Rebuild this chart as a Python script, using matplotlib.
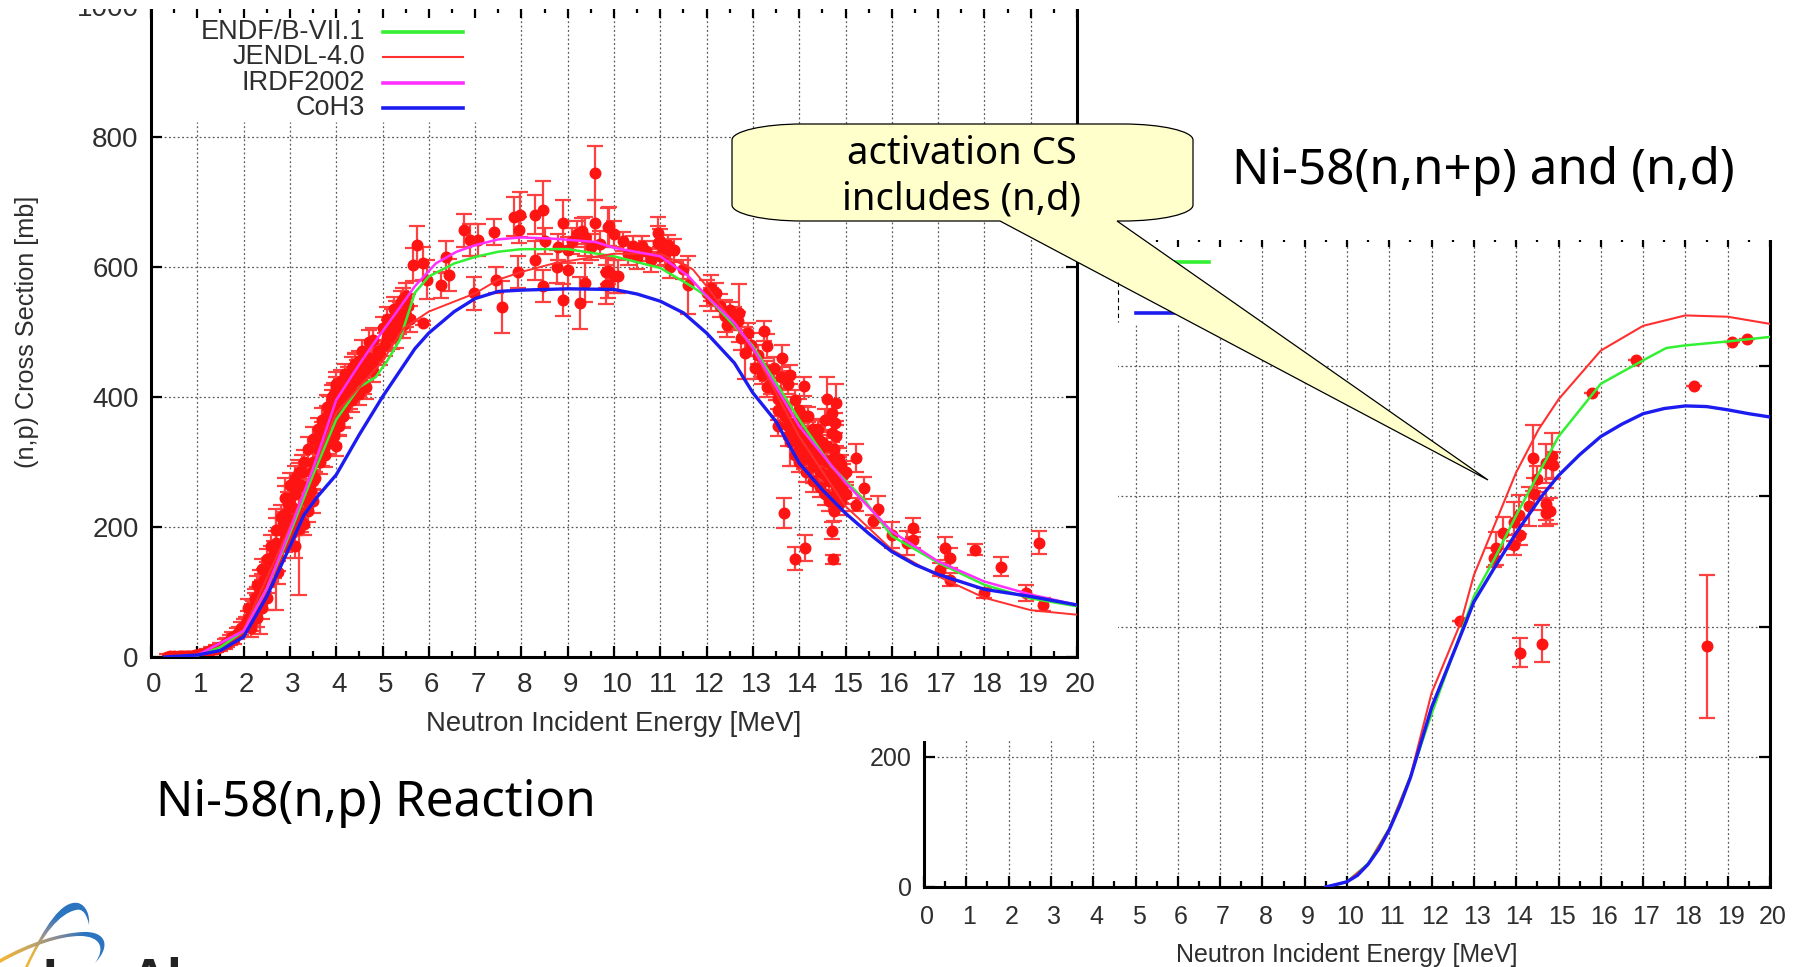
import numpy as np
import matplotlib
matplotlib.use('Agg')
import matplotlib.pyplot as plt
from matplotlib.path import Path
from matplotlib.patches import PathPatch, Rectangle
from matplotlib.colors import LinearSegmentedColormap
from matplotlib.transforms import ScaledTranslation

W, H = 1802, 967
plot_font = 'Liberation Sans'
note_font = 'Noto Sans'
text_gray = '#2e2e2e'
grid_gray = '#5a5a5a'
c_endf, c_jendl, c_irdf, c_coh = '#33f033', '#ff3030', '#ff30ff', '#1c1cf0'

# ---- left panel, Ni-58(n,p) curves
coh_x = [0.3, 1, 1.5, 2, 2.5, 3, 3.3, 3.6, 4, 4.5, 5, 5.7, 6, 6.55, 7, 7.5, 8, 9, 10, 10.5, 11, 11.5, 12, 12.6, 13, 13.5, 14, 14.5, 15, 15.5, 16, 16.5, 17, 18, 19, 20]
coh_y = [0, 3, 10, 31, 93, 170, 218, 247, 280, 342, 400, 474, 498, 531, 551, 562, 564, 566, 565, 558, 547, 529, 498, 452, 406, 362, 298, 257, 221, 190, 162, 142, 127, 104, 93, 80]
endf_x = [0.3, 1, 1.5, 2, 2.5, 3, 3.5, 4, 4.5, 4.85, 5.1, 5.37, 5.7, 6, 6.55, 7, 7.5, 8, 9, 10, 11, 11.6, 12, 12.6, 13, 14, 14.7, 15.4, 16, 17, 18, 19, 20]
endf_y = [0, 2, 15, 40, 105, 190, 280, 365, 415, 430, 455, 487, 560, 585, 605, 615, 623, 627, 627, 616, 598, 573, 555, 509, 478, 365, 293, 242, 186, 145, 111, 90, 78]
irdf_x = [0.3, 1, 2, 2.5, 3, 3.5, 4, 4.5, 4.77, 5.3, 5.7, 6.15, 6.6, 7, 7.5, 8, 8.7, 9.6, 10, 11, 11.6, 12, 12.6, 13, 14, 15, 16, 17, 18, 19, 20]
irdf_y = [0, 3, 40, 105, 195, 290, 395, 450, 478, 530, 570, 605, 623, 633, 642, 645, 643, 638, 629, 616, 586, 555, 514, 475, 355, 268, 193, 147, 116, 96, 80]
jendl_x = [0.3, 1, 2, 3, 4, 4.5, 5, 5.45, 6, 7, 7.5, 8, 8.7, 10, 11, 11.7, 12, 13, 14, 15, 16, 17, 18, 19, 20]
jendl_y = [0, 2, 42, 200, 375, 415, 455, 505, 531, 559, 580, 592, 605, 620, 620, 596, 570, 473, 339, 232, 165, 124, 91, 72, 65]

# ---- left panel, experimental points (energy, cross section, uncertainty)
exp_x = [0.35, 0.4, 0.45, 0.5, 0.55, 0.6, 0.65, 0.7, 0.75, 0.8, 0.85, 0.9, 0.95, 1.0, 1.05, 1.1, 1.2, 1.3, 1.4, 1.5,
         1.6, 1.65, 1.7, 1.75, 1.8, 1.85, 1.9, 1.95, 2.0, 2.05, 2.1, 2.15, 2.2, 2.2, 2.25, 2.3, 2.3, 2.35, 2.35, 2.4, 2.4, 2.45, 2.5, 2.5, 2.55, 2.6,
         2.65, 2.7, 2.7, 2.75, 2.8, 2.85, 2.9, 2.9, 2.95, 3.0, 3.0, 3.05, 3.1, 3.1, 3.15, 3.2, 3.2, 3.25, 3.26, 3.3, 3.35, 3.4, 3.45, 3.5, 3.5, 3.5,
         3.55, 3.6, 3.65, 3.7, 3.7, 3.75, 3.8, 3.8, 3.85, 3.85, 3.9, 3.9, 3.95, 3.95, 4.0, 4.0, 4.0, 4.05, 4.05, 4.1, 4.1, 4.15, 4.2, 4.2, 4.25, 4.3, 4.3, 4.35, 4.4, 4.4, 4.45, 4.5, 4.5, 4.6, 4.6, 4.7, 4.8, 4.8, 4.9, 4.95,
         5.0, 5.05, 5.1, 5.15, 5.2, 5.25, 5.3, 5.3, 5.35, 5.37, 5.4, 5.45, 5.5, 5.55, 5.66, 5.75, 5.88, 5.88, 5.96, 6.26, 6.37, 6.43, 6.77, 6.9, 6.98, 7.07, 7.4, 7.45, 7.58, 7.83,
         7.92, 7.95, 7.98, 8.3, 8.3, 8.47, 8.47, 8.5, 8.77, 8.8, 8.9, 8.9, 9.0, 9.0, 9.1, 9.2, 9.26, 9.3, 9.37, 9.37, 9.5, 9.58, 9.58, 9.7, 9.83, 9.83, 9.87, 9.87, 9.88, 9.9, 10.0, 10.0,
         10.08, 10.2, 10.4, 10.6, 10.7, 10.96, 10.96, 11.0, 11.08, 11.17, 11.5, 11.6, 12.0, 12.1, 12.2, 12.4, 12.5, 12.67, 12.7, 12.83, 12.9,
         13.1, 13.2, 13.2, 13.25, 13.3, 13.3, 13.4, 13.5, 13.54, 13.55, 13.55, 13.6, 13.63, 13.65, 13.7, 13.7, 13.75, 13.8, 13.8, 13.8, 13.85, 13.9, 13.9, 13.95, 14.0, 14.0, 14.04, 14.05, 14.1, 14.1, 14.1, 14.15, 14.2, 14.2, 14.25, 14.3, 14.3, 14.35, 14.4, 14.4, 14.45, 14.46, 14.5, 14.55, 14.6, 14.6, 14.62, 14.65, 14.7, 14.7, 14.7, 14.75, 14.77, 14.8, 14.8, 14.8, 14.85, 14.87, 14.9, 14.9, 14.95, 15.0,
         15.23, 15.23, 15.4, 15.6, 15.7, 16.0, 16.33, 16.45, 16.45, 17.04, 17.15, 17.25, 17.25, 17.8, 18.0, 18.35, 18.9, 19.17, 19.26,
         13.67, 13.9, 14.12, 14.7, 14.72]
exp_y = [0, 1, 0, 1, 0, 1, 1, 1, 1, 2, 2, 2, 3, 3, 4, 5, 8, 10, 13, 15,
         20, 22, 26, 30, 28, 36, 38, 44, 48, 52, 58, 52, 72, 62, 84, 60, 92, 100, 85, 75, 110, 118, 90, 128, 132, 150,
         160, 175, 150, 130, 195, 205, 180, 220, 235, 210, 245, 230, 170, 250, 215, 197, 225, 265, 285, 205, 260, 225, 285, 300, 270, 240,
         300, 320, 335, 310, 345, 325, 340, 370, 350, 385, 360, 395, 340, 405, 375, 325, 415, 385, 355, 395, 425, 370, 400, 435, 430, 430, 410, 445, 420, 450, 440, 430, 455, 445, 420, 460, 450, 487, 470, 465,
         505, 480, 520, 500, 492, 535, 530, 508, 515, 528, 545, 550, 525, 540, 603, 633, 605, 513, 580, 572, 615, 587, 656, 641, 559, 641, 654, 580, 538, 677,
         592, 656, 680, 680, 610, 687, 570, 640, 600, 630, 667, 549, 595, 625, 640, 650, 544, 655, 575, 646, 630, 744, 667, 635, 592, 572, 593, 572, 661, 662, 585, 650,
         585, 639, 632, 632, 624, 637, 652, 616, 626, 634, 596, 572, 560, 568, 560, 524, 534, 516, 529, 468, 498,
         465, 445, 434, 501, 440, 478, 420, 410, 355, 396, 380, 395, 460, 375, 385, 370, 355, 434, 360, 330, 340, 360, 345, 335, 345, 320, 330, 345, 416, 330, 304, 310, 325, 370, 305, 320, 293, 300, 310, 350, 285, 319, 305, 280, 396, 300, 278, 270, 285, 345, 304, 270, 360, 391, 250, 263, 265, 293, 240, 252, 265, 250,
         306, 234, 260, 209, 228, 188, 175, 199, 180, 134, 167, 152, 119, 165, 98, 139, 98, 176, 80,
         221, 151, 168, 194, 150]
exp_err = [4, 4, 4, 4, 4, 4, 4, 4, 4, 4, 4, 4, 4, 4, 4, 4, 5, 5, 5, 6,
           7, 7, 8, 8, 8, 8, 8, 10, 10, 10, 12, 12, 14, 14, 14, 14, 16, 16, 49, 16, 18, 18, 18, 18, 20, 20,
           18, 18, 77, 18, 18, 18, 18, 55, 18, 18, 18, 18, 18, 18, 18, 102, 18, 18, 25, 18, 18, 18, 18, 16, 18, 18,
           16, 16, 16, 16, 16, 16, 16, 16, 16, 16, 16, 16, 16, 16, 16, 16, 16, 16, 16, 16, 16, 16, 16, 16, 16, 16, 16, 16, 16, 16, 16, 16, 16, 16, 16, 16, 16, 18, 16, 16,
           18, 18, 18, 18, 18, 18, 18, 18, 18, 18, 18, 18, 18, 18, 25, 30, 25, 3, 30, 20, 25, 25, 25, 25, 25, 25, 20, 20, 40, 30,
           25, 20, 35, 30, 30, 45, 25, 20, 25, 20, 35, 25, 30, 20, 20, 20, 40, 20, 30, 30, 20, 42, 35, 20, 25, 30, 20, 20, 30, 30, 25, 20,
           25, 15, 15, 15, 15, 25, 25, 15, 15, 15, 15, 44, 20, 20, 15, 25, 12, 14, 45, 40, 15,
           15, 15, 15, 15, 15, 18, 15, 15, 15, 15, 15, 15, 20, 15, 15, 15, 15, 15, 15, 36, 15, 15, 15, 15, 15, 15, 15, 15, 15, 15, 15, 15, 15, 15, 15, 15, 25, 15, 15, 15, 15, 15, 15, 15, 35, 15, 15, 15, 15, 15, 15, 15, 15, 28, 15, 15, 15, 15, 15, 15, 15, 15,
           22, 10, 17, 10, 20, 20, 18, 15, 12, 10, 18, 15, 10, 8, 8, 14, 12, 18, 10,
           23, 18, 20, 13, 7]

# more of the dense bands, rising and falling edges
dense_x = [2.1, 2.15, 2.25, 2.3, 2.4, 2.45, 2.5, 2.55, 2.6, 2.65, 2.7, 2.75, 2.8, 2.85, 2.9, 2.95, 3.0, 3.05, 3.1, 3.15, 3.2, 3.25, 3.3, 3.35, 3.4, 3.45, 3.5, 3.55, 3.6, 3.65, 3.7, 3.75, 3.8, 3.85, 3.9, 3.95, 4.0, 4.05, 4.1, 4.15, 4.2, 4.25, 4.3, 4.35, 4.4, 4.45, 4.5, 4.55, 4.6, 4.65, 4.7, 4.75, 4.8,
           5.1, 5.2, 5.3, 5.4, 5.45, 5.5, 5.6, 10.3, 10.5, 10.8, 11.0, 11.1, 11.2, 11.3, 12.1, 12.3, 12.45, 12.6, 12.75, 12.95, 13.05,
           13.3, 13.45, 13.6, 13.75, 13.9, 14.0, 14.1, 14.2, 14.3, 14.4, 14.5, 14.55, 14.6, 14.7, 14.75, 14.8, 14.85, 14.9, 14.95, 15.0, 13.75, 13.9, 14.0, 14.15, 14.3, 14.45, 14.55, 14.65, 14.75, 14.85]
dense_y = [75, 45, 90, 110, 135, 105, 150, 115, 170, 140, 195, 150, 215, 170, 245, 200, 265, 190, 275, 205, 285, 210, 300, 240, 320, 255, 335, 275, 350, 300, 365, 310, 385, 330, 400, 345, 420, 360, 410, 370, 385, 415, 400, 395, 450, 425, 405, 470, 435, 415, 485, 455, 440,
           490, 515, 495, 525, 510, 555, 520, 620, 615, 610, 640, 620, 600, 625, 550, 540, 510, 520, 490, 480, 445,
           415, 445, 430, 420, 395, 380, 370, 345, 350, 335, 330, 365, 325, 375, 320, 340, 305, 295, 280, 285, 340, 310, 300, 285, 270, 262, 250, 240, 225, 235]
dense_err = [14, 14, 15, 15, 16, 16, 16, 16, 18, 18, 18, 18, 18, 18, 18, 18, 18, 18, 18, 18, 18, 18, 18, 18, 18, 18, 18, 18, 18, 18, 18, 18, 18, 18, 18, 18, 18, 18, 18, 18, 18, 18, 18, 18, 18, 18, 18, 18, 18, 18, 18, 18, 18,
             20, 20, 20, 20, 20, 20, 20, 18, 18, 18, 18, 18, 18, 18, 18, 18, 18, 18, 18, 18, 18,
             16, 16, 16, 16, 16, 16, 16, 16, 16, 16, 16, 16, 16, 16, 16, 16, 16, 16, 16, 16, 16, 16, 16, 16, 16, 16, 16, 16, 16, 16]

# ---- right panel, Ni-58(n,n+p) + (n,d) curves
coh2_x = [9.5, 10, 10.25, 10.5, 10.75, 11, 11.25, 11.5, 12, 12.77, 13, 13.5, 14, 14.6, 15, 15.5, 16, 16.5, 17, 17.5, 18, 18.5, 19, 19.5, 20]
coh2_y = [0, 8, 18, 35, 58, 88, 125, 168, 276, 400, 438, 492, 544, 600, 632, 664, 692, 711, 727, 735, 739, 738, 733, 727, 722]
jendl2_x = [9.5, 10, 10.5, 11, 11.5, 12, 12.7, 13, 14, 14.53, 15, 16, 17, 18, 19, 20]
jendl2_y = [0, 8, 35, 90, 170, 298, 408, 479, 637, 703, 749, 824, 862, 878, 876, 865]
endf2_x = [9.5, 10, 10.5, 11, 11.5, 12, 13, 13.5, 14, 15, 16, 17, 17.55, 18, 19, 20]
endf2_y = [0, 8, 36, 90, 170, 266, 446, 506, 571, 692, 773, 809, 828, 832, 838, 845]
exp2_x = [12.68, 15.8, 16.83, 18.2, 19.1, 19.45, 14.08, 14.6, 18.5, 13.48, 13.53, 13.68, 13.95, 14.08, 14.07, 13.95, 14.3, 14.42, 14.5, 14.4, 14.7, 14.85, 14.8, 14.7, 14.7, 14.87]
exp2_y = [408, 759, 809, 769, 837, 842, 360, 374, 370, 506, 520, 544, 525, 541, 572, 561, 585, 604, 626, 659, 651, 662, 577, 588, 574, 648]
exp2_err = [0, 0, 0, 0, 0, 0, 22, 28, 110, 15, 25, 25, 15, 15, 30, 30, 30, 25, 20, 50, 30, 35, 20, 25, 20, 20]

# ---- legend and axes
legend_names = ['ENDF/B-VII.1', 'JENDL-4.0', 'IRDF2002', 'CoH3']
legend_colors = [c_endf, c_jendl, c_irdf, c_coh]
legend_widths = [2.6, 1.5, 2.6, 2.6]
legend_y = [961, 922, 883, 844]
legend2_y = [960, 882]
legend_x = [5.0, 6.73]
energy_ticks = list(range(0, 21))
sigma_ticks = [0, 200, 400, 600, 800, 1000]


def px_axes(fig, x0, x1, y_top, y_bottom, zorder):
    return fig.add_axes([x0 / W, 1 - y_bottom / H, (x1 - x0) / W, (y_bottom - y_top) / H], zorder=zorder)


def style_plot(ax, fsize, grid_stop, xpad):
    ax.set_xlim(0, 20)
    ax.set_ylim(0, 1000)
    ax.patch.set_alpha(0)
    ax.set_xticks(energy_ticks)
    ax.set_xticks(np.arange(0.5, 20, 1), minor=True)
    ax.set_yticks(sigma_ticks)
    ax.tick_params(axis='both', which='major', direction='in', length=8, width=1.6, top=True, right=True,
                   labelsize=fsize, labelcolor=text_gray, pad=9)
    ax.tick_params(axis='x', which='major', pad=xpad)
    ax.tick_params(axis='x', which='minor', direction='in', length=4, width=1.6, top=True)
    for lab in ax.get_xticklabels() + ax.get_yticklabels():
        lab.set_family(plot_font)
    for lab in ax.get_xticklabels():
        lab.set_transform(lab.get_transform() + ScaledTranslation(3 / 100, 0, fig.dpi_scale_trans))
    ax.spines['top'].set_visible(False)
    for side in ['left', 'right', 'bottom']:
        ax.spines[side].set_linewidth(2.2)
    # the grid stops under the legend for the first energies
    for e in energy_ticks[1:20]:
        ax.vlines(e, 0, grid_stop if e <= 7 else 1000, colors=grid_gray, linewidth=0.9, linestyles=(0, (1.5, 2)), zorder=1)
    ax.hlines(sigma_ticks[1:5], 0, 20, colors=grid_gray, linewidth=0.9, linestyles=(0, (1.5, 2)), zorder=1)


def exp_points(ax, x, y, err):
    ax.errorbar(x, y, yerr=err, fmt='o', ms=7.6, color='#ff1414', ecolor='#ff4040', elinewidth=1.6,
                capsize=5.5, capthick=1.6, zorder=2)


def crescent(ax, verts, codes, colors, extent, vertical):
    cmap = LinearSegmentedColormap.from_list('arc', colors)
    ramp = np.linspace(0, 1, 200)
    ramp = ramp[:, None] if vertical else ramp[None, :]
    img = ax.imshow(ramp, cmap=cmap, extent=extent, aspect='auto', zorder=5)
    patch = PathPatch(Path(verts, codes), facecolor='none', edgecolor='none', transform=ax.transData)
    ax.add_patch(patch)
    img.set_clip_path(patch)


fig = plt.figure(figsize=(W / 100, H / 100), dpi=100, facecolor='white')

# right chart first, the left picture sits on top of it
ax_r = px_axes(fig, 924, 1770, 236, 887, 1)
style_plot(ax_r, 18, 865, 13)
exp_points(ax_r, exp2_x, exp2_y, exp2_err)
ax_r.plot(endf2_x, endf2_y, color=c_endf, lw=1.8, zorder=3)
ax_r.plot(jendl2_x, jendl2_y, color=c_jendl, lw=1.5, zorder=3)
ax_r.plot(coh2_x, coh2_y, color=c_coh, lw=2.4, zorder=3)
ax_r.plot(legend_x, [legend2_y[0], legend2_y[0]], color=c_endf, lw=2.6, zorder=3)
ax_r.plot(legend_x, [legend2_y[1], legend2_y[1]], color=c_coh, lw=2.6, zorder=3)
ax_r.set_xlabel('Neutron Incident Energy [MeV]', family=plot_font, fontsize=18, color=text_gray, labelpad=10)

ax_mask = fig.add_axes([0, 0, 1, 1], zorder=2)
ax_mask.set_xlim(0, W)
ax_mask.set_ylim(H, 0)
ax_mask.axis('off')
ax_mask.add_patch(Rectangle((0, 0), 1118, 741, facecolor='white', edgecolor='none'))
ax_mask.add_patch(Rectangle((1118, 0), W - 1118, 240, facecolor='white', edgecolor='none'))

# left chart
ax_l = px_axes(fig, 151, 1077, 6.5, 657, 3)
style_plot(ax_l, 20, 822, 11)
exp_points(ax_l, exp_x + dense_x, exp_y + dense_y, exp_err + dense_err)
ax_l.plot(endf_x, endf_y, color=c_endf, lw=1.8, zorder=3)
ax_l.plot(jendl_x, jendl_y, color=c_jendl, lw=1.4, zorder=3)
ax_l.plot(irdf_x, irdf_y, color=c_irdf, lw=1.8, zorder=3)
ax_l.plot(coh_x, coh_y, color=c_coh, lw=2.4, zorder=3)
for i in range(4):
    ax_l.plot(legend_x, [legend_y[i], legend_y[i]], color=legend_colors[i], lw=legend_widths[i], zorder=3)
    ax_l.text(4.62, legend_y[i], legend_names[i], ha='right', va='center', family=plot_font, fontsize=19.5, color=text_gray)
ax_l.set_xlabel('Neutron Incident Energy [MeV]', family=plot_font, fontsize=19.8, color=text_gray, labelpad=9)
ax_l.set_ylabel('(n,p) Cross Section [mb]', family=plot_font, fontsize=18.2, color=text_gray, labelpad=27)

# top layer: crop of the left picture, callout, titles, logo
ax_top = fig.add_axes([0, 0, 1, 1], zorder=4)
ax_top.set_xlim(0, W)
ax_top.set_ylim(H, 0)
ax_top.axis('off')
ax_top.add_patch(Rectangle((0, 0), 1118, 9, facecolor='white', edgecolor='none'))
ax_top.plot([1118, 1118], [282, 322], color='black', lw=0.8, ls=(0, (4, 3)))

L, R, T, B = 732, 1193, 124, 221
rx, ry = 70, 16
verts = [(L + rx, T), (R - rx, T), (R - rx * 0.45, T), (R, T + ry * 0.45), (R, T + ry),
         (R, B - ry), (R, B - ry * 0.45), (R - rx * 0.45, B), (R - rx, B),
         (1117, B), (1488, 480), (1000, B),
         (L + rx, B), (L + rx * 0.45, B), (L, B - ry * 0.45), (L, B - ry),
         (L, T + ry), (L, T + ry * 0.45), (L + rx * 0.45, T), (L + rx, T)]
codes = [Path.MOVETO, Path.LINETO, Path.CURVE4, Path.CURVE4, Path.CURVE4,
         Path.LINETO, Path.CURVE4, Path.CURVE4, Path.CURVE4,
         Path.LINETO, Path.LINETO, Path.LINETO,
         Path.LINETO, Path.CURVE4, Path.CURVE4, Path.CURVE4,
         Path.LINETO, Path.CURVE4, Path.CURVE4, Path.CURVE4]
ax_top.add_patch(PathPatch(Path(verts, codes), facecolor='#ffffcc', edgecolor='black', lw=0.9))
ax_top.text(962, 154, 'activation CS', ha='center', va='center', family=note_font, fontsize=27.5, color='black')
ax_top.text(962, 199, 'includes (n,d)', ha='center', va='center', family=note_font, fontsize=27.5, color='black')
ax_top.text(1232, 171, 'Ni-58(n,n+p) and (n,d)', ha='left', va='center', family=note_font, fontsize=35.5, color='black')
ax_top.text(156, 803, 'Ni-58(n,p) Reaction', ha='left', va='center', family=note_font, fontsize=35.5, color='black')

# logo, cut by the bottom edge
C4, MV, LN, EP = Path.CURVE4, Path.MOVETO, Path.LINETO, Path.CLOSEPOLY
arc1_v = [(25, 967), (45, 925), (62, 900), (78, 903), (86, 905), (90, 915), (89, 925),
          (87, 915), (83, 908), (76, 910), (60, 913), (42, 935), (28, 967), (25, 967)]
arc1_c = [MV, C4, C4, C4, C4, C4, C4, C4, C4, C4, C4, C4, C4, EP]
arc2_v = [(0, 959), (30, 942), (60, 933), (83, 932), (105, 931), (112, 945), (95, 963),
          (106, 948), (100, 936), (80, 936), (60, 936), (30, 946), (0, 963), (0, 959)]
arc2_c = arc1_c
crescent(ax_top, arc1_v, arc1_c, ['#2b74c0', '#2b74c0', '#8f8f9a', '#e0b040', '#f2b632'], (20, 95, 967, 900), True)
crescent(ax_top, arc2_v, arc2_c, ['#f2b632', '#c9a860', '#8c8c90', '#2b74c0', '#2b74c0'], (0, 112, 967, 900), False)
ax_top.text(42, 995, 'Los', ha='left', va='baseline', family=plot_font, fontweight='bold', fontsize=38, color='#222222')
ax_top.text(130, 995, 'Alamos', ha='left', va='baseline', family=plot_font, fontweight='bold', fontsize=38, color='#222222')
ax_top.set_xlim(0, W)
ax_top.set_ylim(H, 0)

fig.savefig('out.png', dpi=100)
